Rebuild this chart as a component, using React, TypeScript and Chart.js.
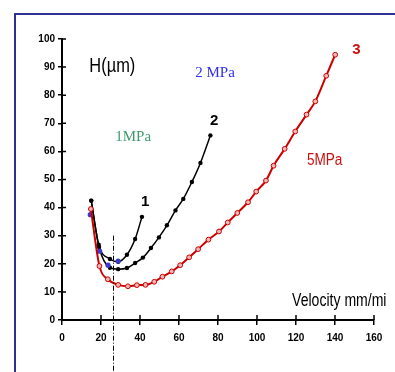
import React, { useEffect, useRef } from "react";
import { Chart, registerables } from "chart.js";

Chart.register(...registerables);

// Curve 1 (1 MPa, black)
const c1X = [15, 18.8, 24.6, 28.8, 33.3, 37.5, 41];
const c1Y = [42.5, 26.8, 21.7, 20.7, 23.2, 28.8, 36.7];
// Curve 2 (2 MPa, black)
const c2X = [15, 19, 24.6, 28.8, 33.3, 37.5, 41.5, 45.6, 49.7, 53.8, 58.2, 62.2, 66.6, 71, 76.1];
const c2Y = [42.5, 26, 18.6, 18.1, 18.5, 20.3, 22.2, 25.6, 29.4, 33.7, 39, 43.1, 49.1, 55.9, 65.7];
// Blue points
const bX = [14.5, 19.3, 23.6, 28.8];
const bY = [37.5, 24.5, 19.5, 21];
// Curve 3 (5 MPa, red)
const c3X = [14.8, 19.2, 23.5, 28.8, 33.8, 38.4, 42.8, 47.3, 51.5, 56.3, 60.6, 65.2, 69.8, 75.1, 80.5, 85, 89.9, 95.4, 99.6, 104.6, 108.5, 114.2, 119.6, 125.4, 129.9, 135.5, 140.1];
const c3Y = [39.5, 19.2, 14.5, 12.5, 12, 12.4, 12.5, 13.6, 15.4, 17.3, 19.5, 22.3, 25.2, 28.6, 31.5, 34.7, 38.1, 41.9, 45.7, 49.6, 54.9, 60.9, 67.1, 73.1, 77.8, 86.9, 94.4];

const xTicks = [0, 20, 40, 60, 80, 100, 120, 140, 160];
const yTicks = [0, 10, 20, 30, 40, 50, 60, 70, 80, 90, 100];

const markerX = 26.1;
const markerTopY = 30;

const labelTexts = ["H(µm)", "2 MPa", "1MPa", "5MPa", "3", "2", "1", "Velocity mm/mi"];
const labelXs = [25.8, 78.5, 36.5, 134.7, 151, 78, 42.6, 118];
const labelYs = [90.1, 88, 65, 56.7, 96.2, 70.7, 41.9, 6.7];

const labelStyles = [
  { color: "#000", font: '20px "Liberation Sans", Arial, sans-serif', sx: 0.82, align: "center" },
  { color: "#3030f0", font: '15px "Liberation Serif", "Times New Roman", serif', sx: 1, align: "center" },
  { color: "#3f9a6c", font: '15px "Liberation Serif", "Times New Roman", serif', sx: 1, align: "center" },
  { color: "#cc1010", font: '16px "Liberation Sans", Arial, sans-serif', sx: 0.85, align: "center" },
  { color: "#cc1010", font: 'bold 15px "Liberation Sans", Arial, sans-serif', sx: 1, align: "center" },
  { color: "#000", font: 'bold 15px "Liberation Sans", Arial, sans-serif', sx: 1, align: "center" },
  { color: "#000", font: 'bold 15px "Liberation Sans", Arial, sans-serif', sx: 1, align: "center" },
  { color: "#000", font: '18px "Liberation Sans", Arial, sans-serif', sx: 0.78, align: "left" },
];

const toPts = (xs: number[], ys: number[]) => xs.map((x, i) => ({ x, y: ys[i] }));

const decorPlugin = {
  id: "decor",
  beforeDraw(chart: any) {
    const ctx = chart.ctx;
    ctx.save();
    ctx.strokeStyle = "#2e3192";
    ctx.lineWidth = 2;
    ctx.beginPath();
    ctx.moveTo(15, chart.height + 5);
    ctx.lineTo(15, 14);
    ctx.lineTo(chart.width + 5, 14);
    ctx.stroke();
    ctx.restore();
  },
  afterDraw(chart: any) {
    const ctx = chart.ctx;
    const xs = chart.scales.x;
    const ys = chart.scales.y;
    ctx.save();
    // inner tick marks
    ctx.strokeStyle = "#000";
    ctx.lineWidth = 1.5;
    ctx.beginPath();
    yTicks.forEach((v) => {
      const py = ys.getPixelForValue(v);
      ctx.moveTo(xs.left, py);
      ctx.lineTo(xs.left + 4, py);
    });
    xTicks.forEach((v) => {
      const px = xs.getPixelForValue(v);
      ctx.moveTo(px, ys.bottom);
      ctx.lineTo(px, ys.bottom - 5);
    });
    ctx.stroke();
    // dash-dot marker line
    const mx = Math.round(xs.getPixelForValue(markerX)) + 0.5;
    ctx.lineWidth = 1;
    ctx.setLineDash([5, 2, 1, 2]);
    ctx.beginPath();
    ctx.moveTo(mx, ys.getPixelForValue(markerTopY));
    ctx.lineTo(mx, chart.height);
    ctx.stroke();
    ctx.setLineDash([]);
    // labels
    labelTexts.forEach((t, i) => {
      const st = labelStyles[i];
      const px = xs.getPixelForValue(labelXs[i]);
      const py = ys.getPixelForValue(labelYs[i]);
      ctx.save();
      ctx.translate(px, py);
      ctx.scale(st.sx, 1);
      ctx.font = st.font;
      ctx.fillStyle = st.color;
      ctx.textAlign = st.align;
      ctx.textBaseline = "middle";
      ctx.fillText(t, 0, 0);
      ctx.restore();
    });
    ctx.restore();
  },
};

const tickFont = { family: '"Liberation Sans", Arial, sans-serif', size: 10, weight: "bold" as const };

export default function App() {
  const ref = useRef<HTMLCanvasElement | null>(null);
  useEffect(() => {
    document.body.style.margin = "0";
    const canvas = ref.current;
    if (!canvas) return;
    const chart = new Chart(canvas, {
      type: "scatter",
      data: {
        datasets: [
          {
            data: toPts(c3X, c3Y),
            showLine: true,
            borderColor: "#cc0000",
            borderWidth: 2,
            pointRadius: 2.4,
            pointBorderWidth: 1,
            pointBorderColor: "#cc0000",
            pointBackgroundColor: "#f2b8b8",
            cubicInterpolationMode: "monotone",
            order: 0,
          },
          {
            data: toPts(bX, bY),
            showLine: false,
            pointRadius: 2.6,
            pointBorderWidth: 0,
            pointBackgroundColor: "#3a3ac8",
            borderColor: "#3a3ac8",
            order: 1,
          },
          {
            data: toPts(c1X, c1Y),
            showLine: true,
            borderColor: "#000",
            borderWidth: 1.5,
            pointRadius: 2.2,
            pointBorderWidth: 0,
            pointBackgroundColor: "#000",
            cubicInterpolationMode: "monotone",
            order: 2,
          },
          {
            data: toPts(c2X, c2Y),
            showLine: true,
            borderColor: "#000",
            borderWidth: 1.5,
            pointRadius: 2.2,
            pointBorderWidth: 0,
            pointBackgroundColor: "#000",
            cubicInterpolationMode: "monotone",
            order: 3,
          },
        ],
      },
      options: {
        animation: false,
        responsive: true,
        maintainAspectRatio: false,
        events: [],
        layout: { padding: { left: 0, right: 21, top: 39, bottom: 0 } },
        plugins: { legend: { display: false }, tooltip: { enabled: false }, title: { display: false } },
        scales: {
          x: {
            type: "linear",
            min: 0,
            max: 160,
            afterFit: (s: any) => { s.height = 52; },
            afterBuildTicks: (s: any) => { s.ticks = xTicks.map((v) => ({ value: v })); },
            ticks: { color: "#000", font: tickFont, padding: 7, maxRotation: 0, autoSkip: false },
            grid: { drawOnChartArea: false, drawTicks: true, tickLength: 5, color: "#000", lineWidth: 1.5 },
            border: { color: "#000", width: 2 },
          },
          y: {
            type: "linear",
            min: 0,
            max: 100,
            afterFit: (s: any) => { s.width = 62; },
            afterBuildTicks: (s: any) => { s.ticks = yTicks.map((v) => ({ value: v })); },
            ticks: { color: "#000", font: tickFont, padding: 3, autoSkip: false },
            grid: { drawOnChartArea: false, drawTicks: true, tickLength: 4, color: "#000", lineWidth: 1.5 },
            border: { color: "#000", width: 2 },
          },
        },
      } as any,
      plugins: [decorPlugin],
    });
    return () => chart.destroy();
  }, []);
  return (
    <div style={{ position: "relative", width: 395, height: 372, background: "#fff" }}>
      <canvas ref={ref} />
    </div>
  );
}
